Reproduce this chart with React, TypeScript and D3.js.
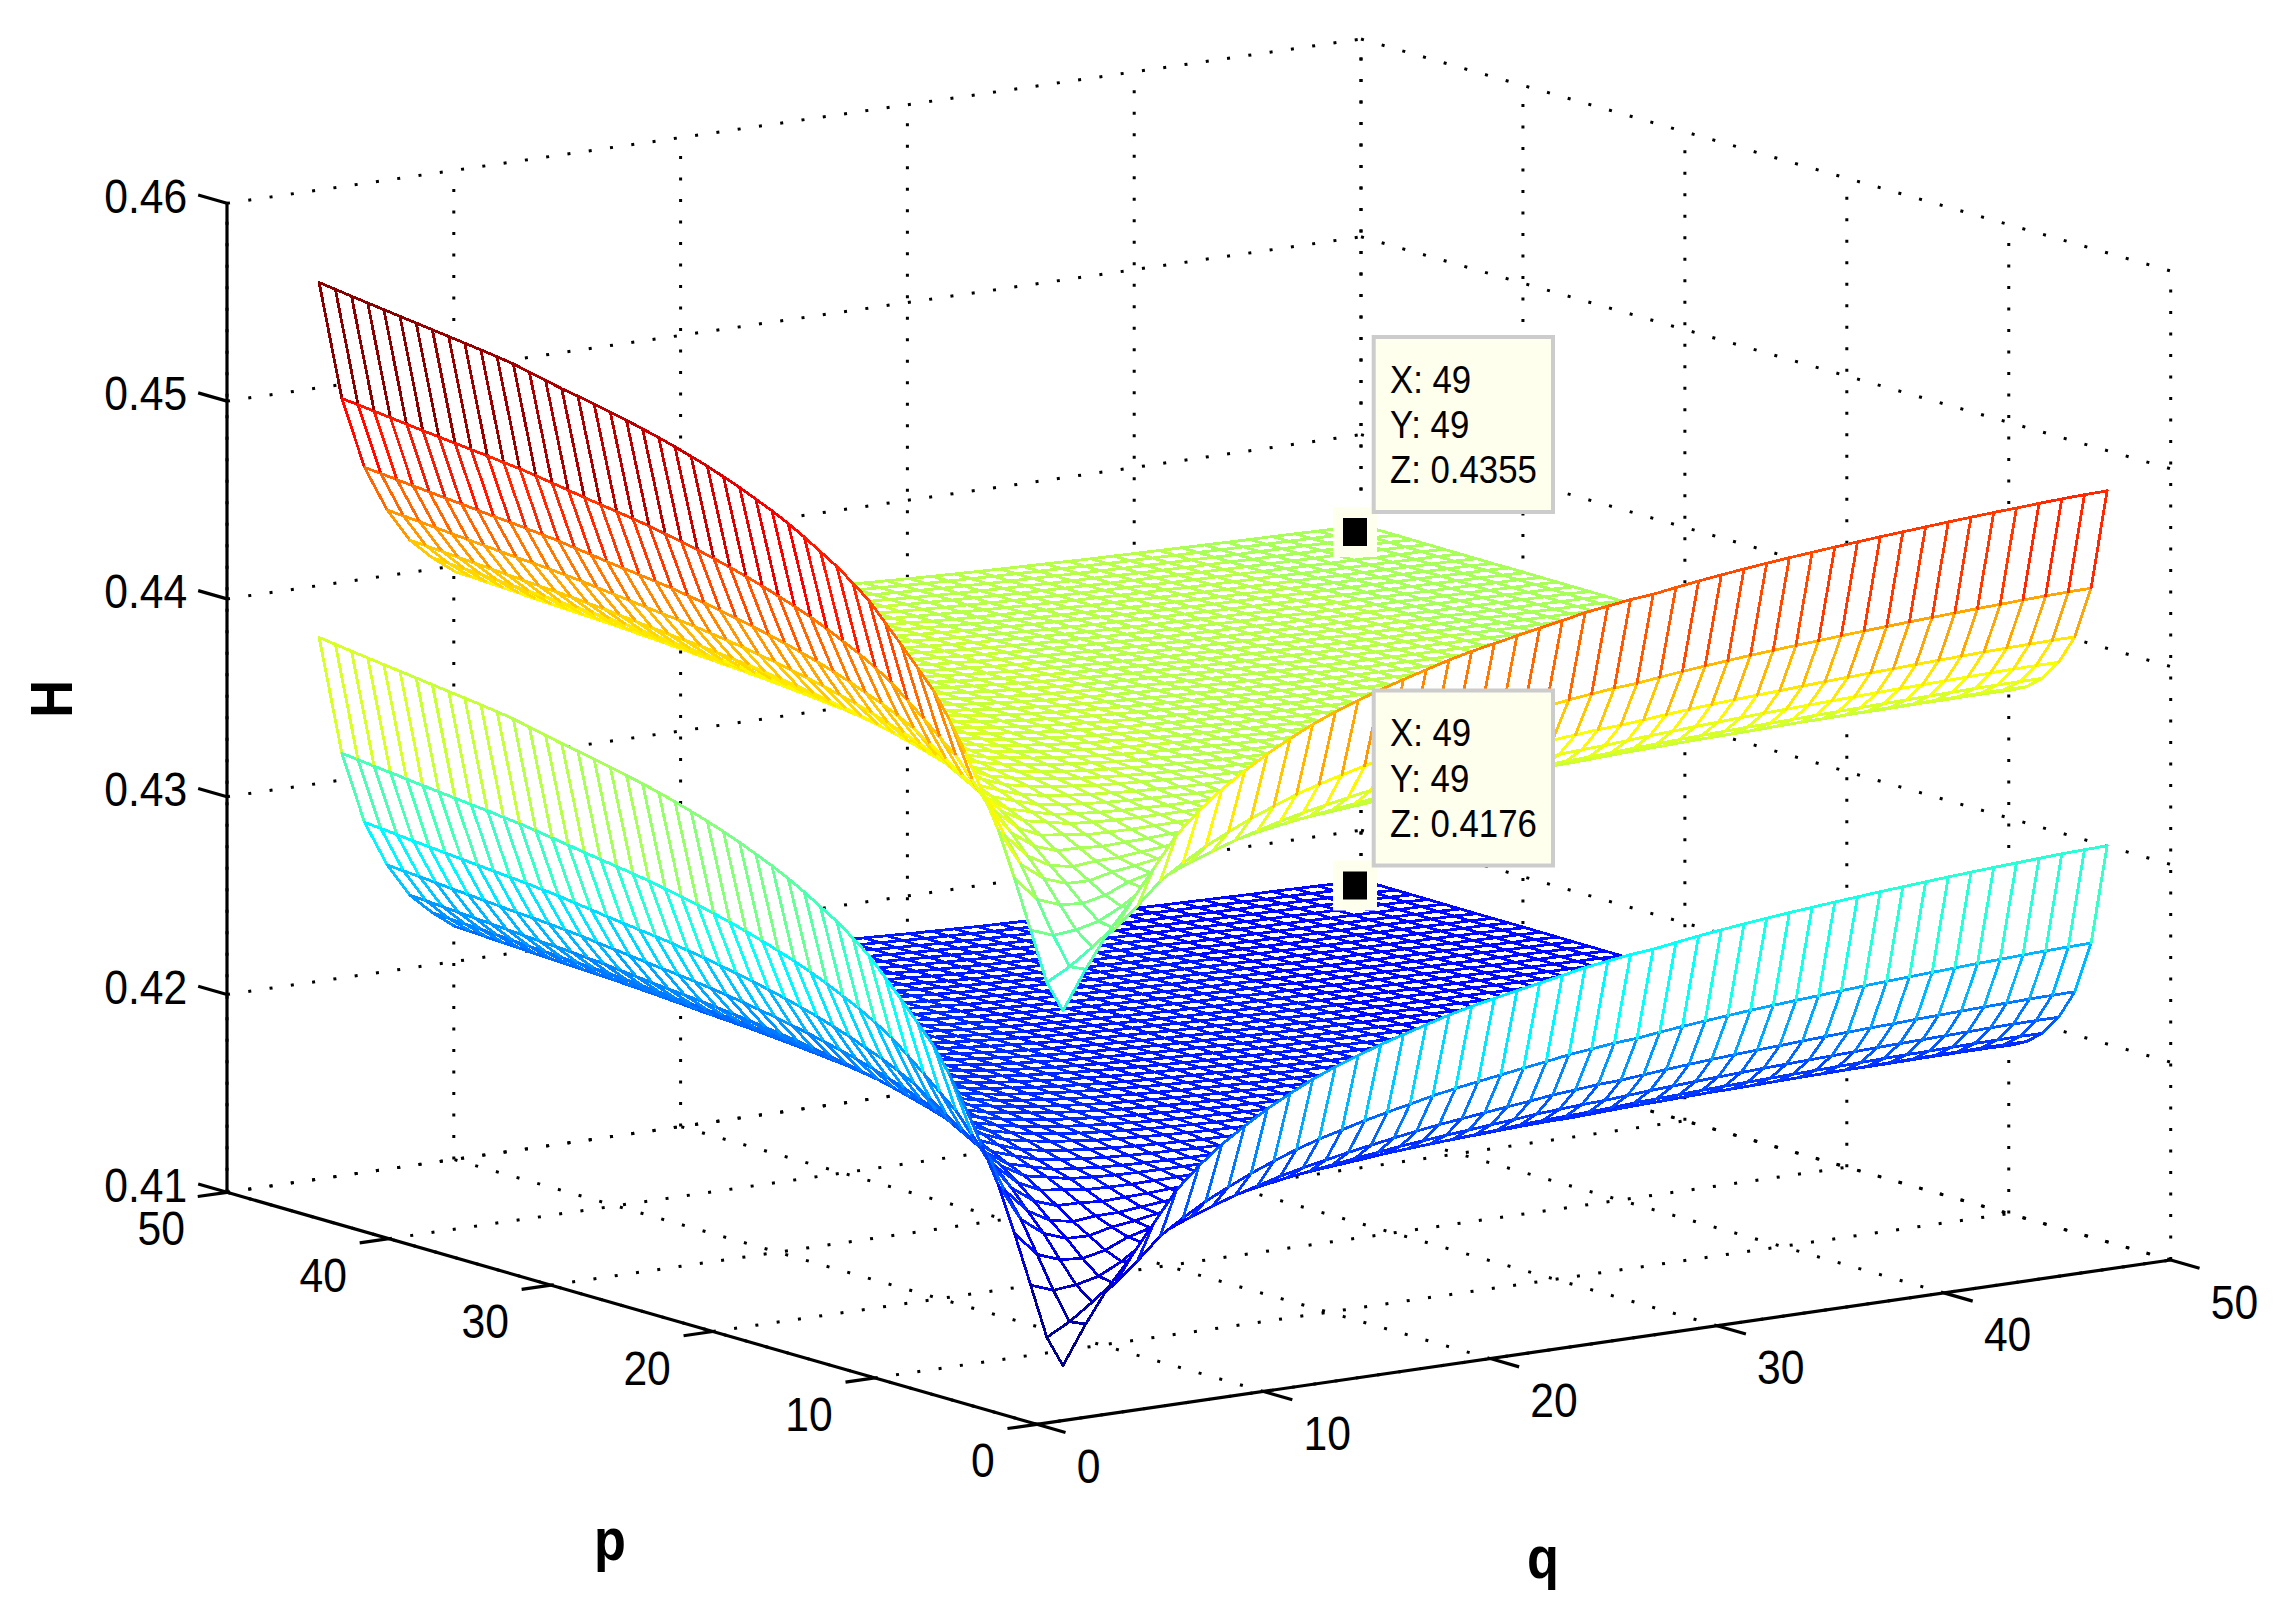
import React, { useEffect, useRef } from "react";
import * as d3 from "d3";

const pTicks = [0, 10, 20, 30, 40, 50];
const qTicks = [0, 10, 20, 30, 40, 50];
const zTicks = [0.41, 0.42, 0.43, 0.44, 0.45, 0.46];
const zTickLabels = ["0.41", "0.42", "0.43", "0.44", "0.45", "0.46"];

// grid runs 3..49 on both axes
const pValues = [3,4,5,6,7,8,9,10,11,12,13,14,15,16,17,18,19,20,21,22,23,24,25,26,27,28,29,30,31,32,33,34,35,36,37,38,39,40,41,42,43,44,45,46,47,48,49];
const qValues = pValues;

// data tip readings
const tipHigh = ["X: 49", "Y: 49", "Z: 0.4355"];
const tipLow = ["X: 49", "Y: 49", "Z: 0.4176"];
const surfaceGap = 0.4355 - 0.4176; // lower sheet sits this far under the upper one

// upper sheet, H x 1e5, one row per p, one column per q
const upperSheet = [
[42977,43170,43340,43475,43628,43779,43885,43975,44050,44120,44180,44235,44282,44322,44360,44394,44426,44458,44485,44508,44530,44552,44573,44596,44612,44628,44638,44655,44671,44685,44698,44710,44721,44731,44741,44750,44759,44767,44775,44783,44790,44797,44803,44809,44815,44819,44822],
[43096,43158,43240,43315,43415,43523,43597,43664,43719,43771,43816,43858,43893,43923,43952,43978,44002,44027,44047,44065,44082,44099,44115,44133,44145,44158,44165,44179,44191,44202,44212,44222,44230,44238,44245,44253,44260,44266,44272,44278,44283,44289,44293,44298,44302,44305,44307],
[43336,43293,43304,43330,43388,43463,43511,43558,43598,43636,43668,43699,43725,43747,43769,43788,43807,43825,43841,43854,43867,43880,43892,43906,43915,43925,43930,43940,43950,43959,43967,43974,43980,43986,43992,43998,44003,44008,44012,44017,44021,44025,44029,44032,44035,44037,44038],
[43573,43450,43407,43396,43421,43470,43499,43531,43559,43586,43609,43631,43650,43667,43682,43697,43711,43725,43736,43746,43756,43766,43775,43786,43793,43800,43804,43812,43820,43826,43832,43838,43843,43848,43852,43856,43860,43864,43868,43871,43874,43877,43880,43883,43885,43886,43886],
[43793,43603,43515,43473,43470,43497,43511,43531,43548,43566,43582,43597,43610,43621,43632,43642,43652,43663,43671,43678,43685,43692,43699,43708,43713,43718,43721,43727,43733,43738,43742,43747,43751,43754,43757,43760,43763,43766,43769,43772,43774,43776,43778,43780,43781,43782,43781],
[43965,43726,43605,43540,43518,43529,43530,43541,43551,43562,43572,43583,43591,43599,43606,43614,43621,43628,43634,43639,43645,43650,43655,43661,43665,43669,43670,43675,43680,43684,43687,43691,43694,43696,43698,43701,43703,43705,43707,43709,43711,43712,43714,43715,43716,43716,43715],
[44130,43848,43698,43614,43574,43571,43562,43566,43569,43575,43580,43585,43590,43595,43599,43604,43608,43613,43618,43621,43624,43628,43631,43637,43639,43642,43642,43646,43649,43652,43655,43657,43659,43661,43663,43664,43666,43668,43669,43671,43671,43672,43674,43674,43675,43675,43673],
[44275,43957,43783,43682,43628,43614,43597,43593,43591,43592,43593,43595,43597,43598,43600,43603,43605,43608,43611,43613,43615,43617,43619,43623,43624,43626,43626,43628,43631,43633,43635,43637,43638,43639,43640,43641,43642,43643,43644,43645,43646,43646,43647,43647,43648,43647,43645],
[44400,44053,43858,43743,43677,43653,43629,43620,43613,43610,43607,43606,43606,43605,43605,43605,43606,43608,43609,43609,43610,43611,43612,43615,43615,43616,43615,43617,43619,43620,43621,43623,43623,43624,43624,43625,43626,43626,43627,43628,43628,43628,43628,43628,43628,43627,43625],
[44493,44123,43914,43788,43713,43682,43652,43639,43629,43622,43617,43614,43611,43609,43607,43606,43606,43606,43606,43606,43606,43606,43606,43608,43607,43608,43607,43608,43609,43610,43610,43611,43612,43612,43612,43612,43613,43613,43613,43613,43613,43613,43613,43613,43613,43612,43609],
[44585,44194,43970,43835,43751,43713,43678,43661,43648,43638,43631,43625,43621,43617,43614,43611,43610,43609,43608,43606,43606,43605,43604,43605,43604,43604,43602,43603,43604,43604,43604,43604,43604,43604,43604,43604,43604,43604,43604,43604,43603,43603,43603,43603,43602,43601,43598],
[44673,44262,44025,43880,43788,43744,43704,43683,43667,43655,43645,43637,43631,43625,43621,43618,43615,43612,43610,43608,43607,43605,43604,43604,43603,43602,43600,43600,43600,43600,43600,43600,43599,43598,43598,43598,43598,43597,43597,43596,43596,43595,43595,43594,43593,43592,43589],
[44760,44329,44079,43926,43826,43775,43730,43707,43687,43673,43660,43651,43643,43636,43630,43625,43621,43618,43615,43613,43610,43607,43606,43605,43603,43602,43599,43599,43598,43597,43597,43596,43596,43595,43594,43593,43593,43592,43592,43591,43590,43589,43589,43588,43587,43585,43582],
[44825,44380,44120,43960,43854,43799,43751,43724,43703,43686,43672,43661,43652,43643,43637,43631,43626,43622,43618,43615,43612,43609,43607,43606,43603,43602,43599,43598,43597,43596,43595,43594,43593,43592,43591,43590,43590,43589,43588,43587,43586,43585,43584,43583,43582,43580,43577],
[44885,44427,44158,43991,43880,43820,43769,43740,43716,43698,43682,43670,43660,43650,43642,43636,43631,43626,43621,43617,43614,43610,43608,43606,43603,43601,43598,43597,43596,43594,43593,43592,43591,43589,43588,43587,43586,43585,43584,43583,43582,43581,43580,43579,43577,43576,43572],
[44935,44466,44189,44018,43903,43839,43785,43754,43729,43709,43692,43679,43667,43657,43648,43642,43635,43630,43625,43620,43617,43613,43609,43607,43604,43602,43599,43597,43596,43594,43593,43591,43590,43588,43586,43585,43584,43583,43582,43581,43580,43578,43578,43576,43575,43573,43569],
[44985,44505,44221,44045,43925,43858,43801,43768,43741,43720,43702,43687,43675,43664,43654,43647,43640,43634,43628,43623,43619,43615,43611,43609,43605,43603,43599,43597,43596,43594,43592,43591,43589,43587,43585,43584,43583,43581,43580,43579,43577,43576,43575,43573,43572,43570,43566],
[45030,44540,44249,44069,43945,43874,43815,43780,43752,43729,43710,43695,43681,43670,43659,43651,43644,43637,43631,43626,43621,43617,43613,43610,43606,43603,43599,43597,43595,43593,43591,43590,43588,43586,43584,43582,43581,43579,43578,43577,43575,43573,43572,43571,43569,43567,43563],
[45070,44571,44275,44090,43963,43890,43828,43792,43762,43738,43718,43702,43688,43675,43665,43656,43648,43641,43634,43629,43624,43619,43614,43611,43607,43604,43600,43598,43596,43593,43591,43589,43587,43585,43583,43581,43580,43578,43577,43575,43573,43572,43571,43569,43567,43565,43561],
[45105,44599,44298,44109,43979,43903,43840,43802,43772,43747,43726,43708,43694,43681,43670,43661,43652,43644,43638,43632,43626,43621,43617,43613,43609,43606,43601,43599,43597,43594,43592,43590,43588,43585,43583,43581,43580,43578,43576,43575,43573,43571,43570,43568,43566,43564,43560],
[45140,44626,44320,44128,43994,43916,43851,43812,43781,43754,43732,43714,43699,43686,43674,43664,43655,43647,43640,43634,43628,43623,43618,43614,43610,43606,43602,43599,43597,43594,43592,43589,43587,43585,43582,43580,43579,43577,43575,43573,43571,43569,43568,43566,43564,43562,43558],
[45170,44650,44339,44144,44008,43928,43862,43821,43789,43762,43739,43720,43704,43690,43678,43668,43659,43650,43643,43637,43631,43625,43620,43616,43611,43607,43603,43600,43597,43594,43592,43590,43587,43585,43582,43580,43578,43577,43575,43573,43571,43569,43568,43566,43563,43561,43557],
[45200,44673,44358,44161,44022,43940,43872,43830,43797,43769,43745,43726,43709,43695,43682,43672,43662,43653,43646,43639,43633,43627,43622,43617,43612,43609,43604,43601,43598,43595,43592,43590,43587,43585,43582,43580,43578,43576,43574,43572,43570,43568,43567,43565,43563,43560,43556],
[45225,44693,44374,44174,44033,43949,43880,43838,43803,43774,43750,43731,43714,43699,43686,43675,43665,43656,43648,43641,43635,43628,43623,43618,43613,43609,43605,43602,43599,43595,43593,43590,43587,43585,43582,43580,43578,43576,43574,43572,43570,43567,43566,43564,43562,43559,43555],
[45250,44713,44390,44188,44044,43959,43888,43845,43810,43780,43756,43735,43718,43703,43689,43678,43668,43658,43650,43643,43636,43630,43624,43620,43614,43610,43606,43602,43599,43595,43593,43590,43587,43584,43582,43580,43577,43575,43573,43571,43569,43567,43565,43563,43561,43558,43554],
[45272,44730,44405,44200,44055,43968,43896,43852,43816,43786,43761,43740,43722,43707,43693,43681,43671,43661,43653,43645,43639,43632,43626,43621,43616,43612,43607,43604,43600,43597,43594,43591,43588,43585,43582,43580,43578,43576,43574,43571,43569,43567,43566,43563,43561,43558,43554],
[45293,44746,44418,44211,44064,43976,43903,43858,43821,43791,43765,43744,43726,43710,43695,43684,43673,43663,43655,43647,43640,43633,43627,43622,43617,43612,43607,43604,43600,43597,43594,43591,43588,43585,43582,43580,43578,43575,43573,43571,43568,43566,43565,43562,43560,43557,43553],
[45312,44762,44431,44222,44073,43984,43910,43864,43827,43796,43770,43748,43729,43713,43699,43687,43676,43666,43657,43649,43642,43635,43629,43624,43618,43614,43609,43605,43601,43598,43595,43592,43589,43586,43582,43580,43578,43576,43573,43571,43569,43566,43565,43562,43560,43557,43553],
[45330,44775,44442,44231,44082,43991,43916,43870,43832,43800,43774,43752,43733,43716,43702,43689,43678,43668,43659,43651,43644,43637,43630,43625,43620,43615,43610,43606,43602,43599,43596,43592,43589,43586,43583,43581,43578,43576,43574,43571,43569,43567,43565,43563,43560,43558,43553],
[45347,44787,44451,44239,44088,43996,43921,43874,43836,43803,43776,43754,43735,43718,43703,43691,43679,43669,43660,43652,43645,43637,43631,43625,43620,43615,43610,43606,43602,43598,43595,43592,43589,43586,43583,43580,43578,43575,43573,43571,43568,43566,43564,43562,43559,43557,43552],
[45362,44799,44461,44248,44095,44002,43926,43879,43840,43807,43780,43757,43738,43721,43706,43693,43682,43671,43662,43654,43646,43639,43632,43627,43621,43616,43611,43607,43603,43599,43596,43593,43590,43586,43583,43581,43578,43576,43573,43571,43568,43566,43564,43562,43559,43557,43552],
[45376,44810,44470,44256,44102,44008,43931,43883,43844,43811,43783,43760,43741,43724,43708,43695,43684,43673,43664,43655,43648,43640,43633,43628,43622,43617,43612,43608,43604,43600,43597,43593,43590,43587,43584,43581,43579,43576,43573,43571,43569,43566,43564,43562,43559,43557,43552],
[45395,44824,44482,44266,44110,44016,43938,43889,43849,43816,43788,43764,43744,43727,43711,43698,43686,43675,43666,43657,43650,43642,43635,43629,43623,43618,43613,43609,43605,43601,43597,43594,43591,43587,43584,43582,43579,43576,43574,43571,43569,43566,43564,43562,43559,43557,43552],
[45412,44836,44492,44274,44118,44022,43943,43894,43854,43820,43791,43767,43747,43729,43714,43701,43688,43677,43668,43659,43651,43644,43636,43631,43624,43619,43614,43610,43605,43601,43598,43595,43591,43588,43585,43582,43579,43577,43574,43572,43569,43567,43565,43562,43559,43557,43552],
[45430,44849,44503,44284,44126,44029,43949,43899,43858,43824,43795,43771,43750,43733,43717,43703,43691,43680,43670,43661,43653,43645,43638,43632,43626,43621,43615,43611,43607,43602,43599,43595,43592,43588,43585,43582,43579,43577,43574,43572,43569,43567,43565,43562,43559,43557,43552],
[45442,44860,44511,44291,44132,44034,43953,43903,43862,43828,43798,43774,43753,43735,43719,43705,43693,43682,43671,43662,43654,43646,43639,43633,43627,43621,43616,43612,43607,43603,43600,43596,43592,43589,43585,43583,43580,43577,43575,43572,43570,43567,43565,43562,43559,43557,43552],
[45453,44869,44519,44298,44138,44039,43958,43907,43866,43831,43801,43777,43756,43737,43721,43707,43695,43683,43673,43664,43656,43647,43640,43634,43628,43622,43617,43612,43608,43604,43600,43597,43593,43589,43586,43583,43580,43578,43575,43572,43570,43567,43565,43562,43559,43557,43552],
[45463,44878,44526,44304,44143,44043,43962,43911,43869,43834,43804,43779,43758,43739,43723,43709,43696,43684,43674,43665,43657,43649,43641,43635,43629,43623,43618,43613,43609,43604,43601,43597,43593,43590,43587,43584,43581,43578,43575,43573,43570,43567,43565,43562,43559,43557,43552],
[45473,44885,44532,44308,44147,44046,43965,43913,43871,43835,43805,43780,43759,43740,43723,43709,43697,43684,43675,43665,43657,43649,43641,43635,43628,43623,43617,43613,43608,43604,43600,43596,43593,43589,43586,43583,43580,43577,43574,43572,43569,43566,43564,43561,43558,43556,43551],
[45483,44894,44539,44314,44152,44051,43969,43917,43874,43838,43808,43783,43761,43742,43725,43711,43698,43686,43676,43666,43658,43650,43642,43635,43629,43624,43618,43613,43609,43604,43601,43597,43593,43589,43586,43583,43580,43577,43574,43572,43569,43566,43564,43561,43558,43556,43551],
[45493,44902,44546,44320,44157,44055,43972,43920,43877,43840,43810,43785,43763,43744,43727,43713,43699,43687,43677,43667,43659,43650,43643,43636,43630,43624,43619,43614,43609,43605,43601,43597,43593,43590,43586,43583,43580,43578,43575,43572,43569,43566,43564,43561,43558,43556,43551],
[45503,44910,44553,44326,44162,44059,43976,43923,43880,43843,43813,43787,43765,43746,43729,43715,43701,43689,43678,43669,43660,43652,43644,43637,43631,43625,43619,43614,43610,43605,43601,43598,43594,43590,43587,43584,43581,43578,43575,43572,43569,43566,43564,43561,43558,43556,43551],
[45513,44919,44560,44332,44167,44064,43980,43927,43883,43846,43815,43789,43767,43748,43731,43716,43703,43690,43680,43670,43661,43653,43645,43638,43632,43626,43620,43615,43610,43606,43602,43598,43594,43591,43587,43584,43581,43578,43575,43572,43570,43567,43565,43562,43559,43556,43551],
[45523,44928,44567,44339,44172,44069,43984,43930,43886,43849,43818,43792,43769,43750,43733,43718,43704,43692,43681,43671,43662,43654,43646,43639,43632,43626,43620,43615,43610,43606,43602,43598,43595,43591,43587,43584,43581,43578,43575,43572,43570,43567,43565,43562,43559,43556,43551],
[45533,44936,44574,44345,44178,44073,43988,43934,43889,43852,43821,43794,43772,43752,43735,43719,43706,43693,43682,43672,43664,43655,43647,43640,43633,43627,43621,43616,43611,43607,43603,43599,43595,43591,43587,43584,43581,43578,43575,43572,43570,43567,43565,43562,43559,43556,43551],
[45544,44945,44582,44351,44183,44077,43992,43938,43893,43855,43823,43796,43774,43754,43736,43721,43707,43694,43683,43673,43664,43655,43648,43640,43634,43628,43622,43617,43612,43607,43603,43599,43595,43591,43587,43584,43581,43578,43575,43572,43569,43566,43564,43561,43558,43555,43551],
[45554,44953,44588,44356,44187,44081,43995,43940,43895,43857,43825,43798,43775,43755,43737,43722,43708,43695,43684,43674,43665,43656,43648,43641,43634,43628,43622,43617,43612,43607,43603,43599,43595,43591,43587,43584,43581,43578,43575,43572,43569,43566,43564,43561,43558,43555,43550],
];

const WIDTH = 2283;
const HEIGHT = 1624;

const makeProjection = (
  ox: number,
  oy: number,
  qx: number,
  qy: number,
  px: number,
  py: number,
  zy: number,
) => {
  const qToX = d3.scaleLinear().domain([0, 50]).range([0, qx]);
  const qToY = d3.scaleLinear().domain([0, 50]).range([0, qy]);
  const pToX = d3.scaleLinear().domain([0, 50]).range([0, px]);
  const pToY = d3.scaleLinear().domain([0, 50]).range([0, py]);
  const zToY = d3.scaleLinear().domain([0.41, 0.46]).range([0, zy]);
  return (p: number, q: number, z: number): [number, number] => [
    ox + qToX(q) + pToX(p),
    oy + qToY(q) + pToY(p) + zToY(z),
  ];
};

// box and axes
const project = makeProjection(1036.7, 1424.3, 1134, -164.3, -809.7, -232, -989);
// the sheets sit a few pixels off the box in the original
const projectMesh = makeProjection(1043.4, 1427, 1135, -167.5, -808.5, -236, -991.5);

const jetStops = d3
  .scaleLinear<string>()
  .domain([0, 0.125, 0.375, 0.625, 0.875, 1])
  .range(["#000080", "#0000ff", "#00ffff", "#ffff00", "#ff0000", "#800000"])
  .clamp(true);

const FONT = "'Liberation Sans', Arial, sans-serif";

function App() {
  const ref = useRef<SVGSVGElement>(null);

  useEffect(() => {
    const svg = d3.select(ref.current);
    svg.selectAll("*").remove();
    const line = d3.line();

    svg.append("rect").attr("width", WIDTH).attr("height", HEIGHT).attr("fill", "#fff");

    // dotted walls and floor
    const grid = svg
      .append("g")
      .attr("fill", "none")
      .attr("stroke", "#000")
      .attr("stroke-width", 3)
      .attr("stroke-dasharray", "3 18.5");
    const gridLine = (a: [number, number], b: [number, number]) =>
      grid.append("path").attr("d", line([a, b]));
    const z0 = zTicks[0];
    const z1 = zTicks[zTicks.length - 1];
    zTicks.forEach((z) => {
      gridLine(project(50, 0, z), project(50, 50, z));
      gridLine(project(50, 50, z), project(0, 50, z));
    });
    qTicks.forEach((q) => {
      gridLine(project(50, q, z0), project(50, q, z1));
      gridLine(project(0, q, z0), project(50, q, z0));
    });
    pTicks.forEach((p) => {
      gridLine(project(p, 50, z0), project(p, 50, z1));
      gridLine(project(p, 0, z0), project(p, 50, z0));
    });

    // axes with ticks
    const axes = svg
      .append("g")
      .attr("fill", "none")
      .attr("stroke", "#000")
      .attr("stroke-width", 3.2);
    const axisLine = (a: [number, number], b: [number, number]) =>
      axes.append("path").attr("d", line([a, b]));
    axisLine(project(50, 0, z0), project(50, 0, z1));
    axisLine(project(50, 0, z0), project(0, 0, z0));
    axisLine(project(0, 0, z0), project(0, 50, z0));
    zTicks.forEach((z) => axisLine(project(50, 0, z), project(51.78, 0, z)));
    pTicks.forEach((p) => axisLine(project(p, 0, z0), project(p, -1.29, z0)));
    qTicks.forEach((q) => axisLine(project(0, q, z0), project(-1.78, q, z0)));

    // sheets, lower one first, far cells first so the white faces hide what is behind
    const lowerSheet = upperSheet.map((row) => row.map((v) => v / 1e5 - surfaceGap));
    const higherSheet = upperSheet.map((row) => row.map((v) => v / 1e5));
    const cMin = d3.min(lowerSheet.flat()) as number;
    const cMax = d3.max(higherSheet.flat()) as number;
    const jet = d3
      .scaleQuantize<string>()
      .domain([cMin, cMax])
      .range(d3.range(64).map((i) => jetStops((i + 0.5) / 64)));

    const drawSheet = (sheet: number[][]) => {
      const g = svg
        .append("g")
        .attr("stroke-width", 2.8)
        .attr("stroke-linecap", "round")
        .attr("shape-rendering", "crispEdges");
      const pt = (i: number, j: number) => projectMesh(pValues[i], qValues[j], sheet[i][j]);
      const edge = (a: [number, number], b: [number, number], z: number) =>
        g.append("path").attr("d", line([a, b])).attr("stroke", jet(z)).attr("fill", "none");
      for (let i = pValues.length - 2; i >= 0; i--) {
        for (let j = qValues.length - 2; j >= 0; j--) {
          const a = pt(i, j);
          const b = pt(i + 1, j);
          const c = pt(i + 1, j + 1);
          const d = pt(i, j + 1);
          g.append("path")
            .attr("d", line([a, b, c, d]) + "Z")
            .attr("fill", "#fff")
            .attr("stroke", "none");
          edge(b, c, sheet[i + 1][j]);
          edge(d, c, sheet[i][j + 1]);
          edge(a, b, sheet[i][j]);
          edge(a, d, sheet[i][j]);
        }
      }
    };
    drawSheet(lowerSheet);
    drawSheet(higherSheet);

    // text is a bit condensed in the original
    const label = (
      x: number,
      y: number,
      s: string,
      anchor: string,
      size = 49,
      weight = "normal",
      rotate = 0,
    ) =>
      svg
        .append("text")
        .attr("transform", `translate(${x},${y}) rotate(${rotate}) scale(0.87,1)`)
        .attr("text-anchor", anchor)
        .attr("font-family", FONT)
        .attr("font-size", size)
        .attr("font-weight", weight)
        .attr("fill", "#000")
        .text(s);

    zTicks.forEach((z, i) => {
      const [x, y] = project(51.78, 0, z);
      label(x - 11, y + 17.5, zTickLabels[i], "end");
    });
    pTicks.forEach((p) => {
      const [x, y] = project(p, 0, z0);
      label(x - 42, y + 53, String(p), "end");
    });
    qTicks.forEach((q) => {
      const [x, y] = project(0, q, z0);
      label(x + 40, y + 58.5, String(q), "start");
    });
    label(610, 1559.5, "p", "middle", 60, "bold");
    label(1543, 1578, "q", "middle", 60, "bold");
    label(72, 699, "H", "middle", 60, "bold", -90);

    // data tips
    const drawTip = (lines: string[], dy: number) => {
      svg.append("rect")
        .attr("x", 1333).attr("y", 507 + dy).attr("width", 44).attr("height", 50)
        .attr("fill", "#ffffee");
      svg.append("rect")
        .attr("x", 1343).attr("y", 518 + dy).attr("width", 24).attr("height", 28)
        .attr("fill", "#000");
      svg.append("rect")
        .attr("x", 1373.7).attr("y", 337 + dy).attr("width", 179.3).attr("height", 175)
        .attr("fill", "#ffffee").attr("stroke", "#cccccc").attr("stroke-width", 4);
      lines.forEach((s, i) => {
        svg.append("text")
          .attr("transform", `translate(1390,${392.7 + dy + i * 45.3}) scale(0.915,1)`)
          .attr("font-family", FONT)
          .attr("font-size", 38)
          .attr("fill", "#000")
          .text(s);
      });
    };
    drawTip(tipHigh, 0);
    drawTip(tipLow, 353.5);
  }, []);

  return (
    <svg
      ref={ref}
      width={WIDTH}
      height={HEIGHT}
      style={{ position: "absolute", left: 0, top: 0, display: "block" }}
    />
  );
}

export default App;
